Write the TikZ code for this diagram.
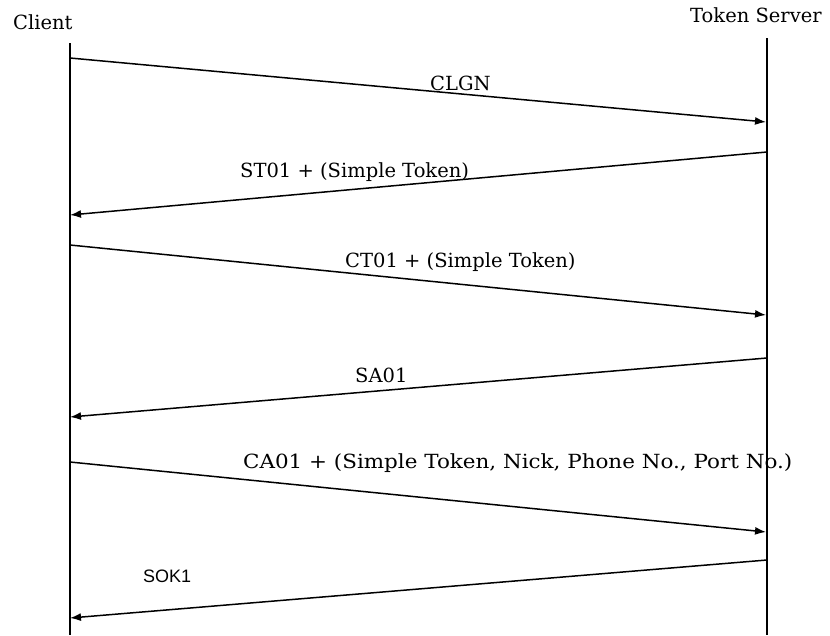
\documentclass[tikz,border=0pt]{standalone}
\usepackage{graphicx}
\usepackage{fontspec}
\setmainfont{DejaVu Serif}
\newfontfamily\labsans{Liberation Sans}
\usetikzlibrary{arrows.meta}
\begin{document}
\begin{tikzpicture}[x=1pt,y=-1pt,
  lifeline/.style={line width=2.2pt,black},
  msg/.style={line width=1.5pt,black,-{Latex[length=11pt,width=8pt]}},
  head/.style={font=\fontsize{19.5}{22}\selectfont,inner sep=0pt,anchor=west},
  lab/.style={font=\fontsize{19.5}{22}\selectfont,inner sep=0pt,anchor=west},
  slab/.style={font=\labsans\fontsize{18}{20}\selectfont,inner sep=0pt,anchor=west}]
\useasboundingbox[fill=white] (0,0) rectangle (830,635);
% lifelines
\coordinate (ctop) at (70,43);
\coordinate (cbot) at (70,635);
\coordinate (stop) at (767,38);
\coordinate (sbot) at (767,635);
\draw[lifeline] (ctop) -- (cbot);
\draw[lifeline] (stop) -- (sbot);
% headers
\node[head] (client) at (13,22) {Client};
\node[head] (server) at (690,15) {Token Server};
% message end points
\coordinate (m1a) at (70,58);   \coordinate (m1b) at (766,122);
\coordinate (m2a) at (767,152); \coordinate (m2b) at (70,215);
\coordinate (m3a) at (70,245);  \coordinate (m3b) at (766,315);
\coordinate (m4a) at (767,358); \coordinate (m4b) at (70,417);
\coordinate (m5a) at (70,462);  \coordinate (m5b) at (766,532);
\coordinate (m6a) at (767,560); \coordinate (m6b) at (70,618);
\draw[msg] (m1a) -- (m1b);
\draw[msg] (m2a) -- (m2b);
\draw[msg] (m3a) -- (m3b);
\draw[msg] (m4a) -- (m4b);
\draw[msg] (m5a) -- (m5b);
\draw[msg] (m6a) -- (m6b);
% labels
\node[lab] (l1) at (430,83) {CLGN};
\node[lab] (l2) at (240,172) {ST01 + (Simple Token)};
\node[lab] (l3) at (345,262) {CT01 + (Simple Token)};
\node[lab] (l4) at (355,375) {SA01};
\node[lab] (l5) at (243,463) {\scalebox{1.1}[1]{CA01 + (Simple Token, Nick, Phone No., Port No.)}};
\node[slab] (l6) at (143,576) {SOK1};
\end{tikzpicture}
\end{document}
